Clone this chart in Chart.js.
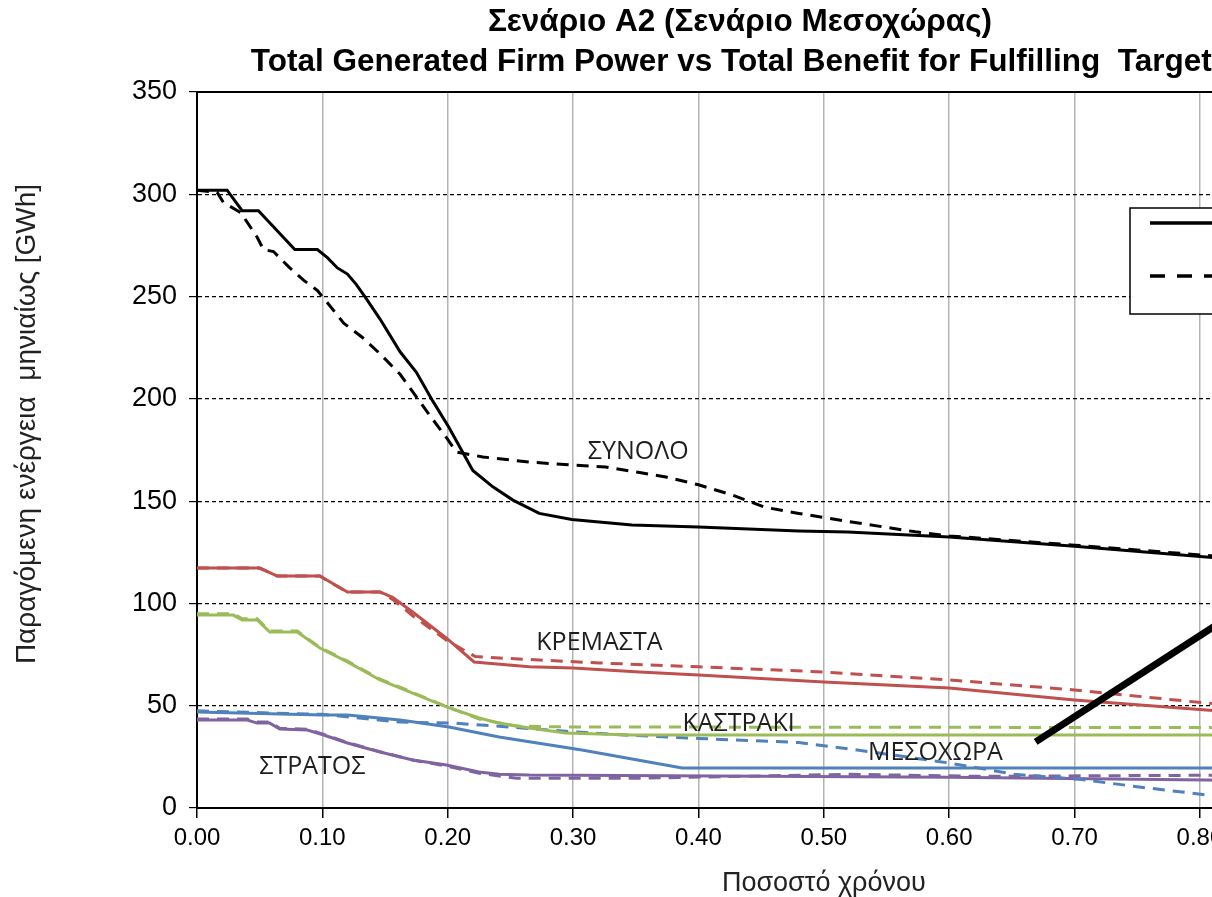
<!DOCTYPE html>
<html>
<head>
<meta charset="utf-8">
<script src="https://cdn.jsdelivr.net/npm/chart.js@4.4.0/dist/chart.umd.min.js"></script>
<style>
  html, body { margin: 0; padding: 0; background: #fff; overflow: hidden; }
  #wrap { width: 1480px; height: 897px; }
</style>
</head>
<body>
<div id="wrap"><canvas id="energyChart" width="1480" height="897"></canvas></div>
<script>
// ΣΥΝΟΛΟ
const totalX = [0, 0.024, 0.036, 0.049, 0.078, 0.096, 0.104, 0.112, 0.120, 0.127, 0.135, 0.146, 0.162, 0.175, 0.188, 0.201, 0.220, 0.236, 0.252, 0.273, 0.299, 0.347, 0.400, 0.480, 0.519, 0.600, 0.700, 0.805, 0.85];
const total = [302, 302, 292, 292, 273, 273, 269, 264, 261, 256, 249, 239, 223, 213, 199, 186, 165, 157, 150.5, 144, 141, 138.3, 137.3, 135.4, 134.9, 132.5, 128, 122.7, 120.5];
const totalBenefitX = [0, 0.016, 0.021, 0.035, 0.048, 0.053, 0.061, 0.074, 0.085, 0.096, 0.104, 0.117, 0.132, 0.146, 0.162, 0.175, 0.188, 0.199, 0.207, 0.228, 0.267, 0.302, 0.326, 0.353, 0.374, 0.400, 0.427, 0.453, 0.480, 0.520, 0.573, 0.600, 0.700, 0.805, 0.85];
const totalBenefit = [302, 301, 296, 291, 279, 273, 272, 264, 258, 253, 247, 237, 230, 222, 212, 201, 190, 181, 174, 171.6, 169, 167.6, 166.7, 164, 161.8, 158, 153, 147, 144, 140, 135, 133, 128.5, 123.5, 121];

// ΚΡΕΜΑΣΤΑ
const kremastaX = [0, 0.050, 0.064, 0.098, 0.120, 0.146, 0.156, 0.172, 0.199, 0.221, 0.265, 0.300, 0.353, 0.400, 0.500, 0.600, 0.700, 0.805, 0.85];
const kremasta = [117.3, 117.3, 113.4, 113.4, 105.6, 105.6, 103, 95.8, 83, 71.4, 69, 68.4, 66.5, 65, 61.6, 58.6, 52.8, 47.9, 46];
const kremastaBenefitX = [0, 0.050, 0.064, 0.098, 0.104, 0.120, 0.146, 0.156, 0.172, 0.199, 0.222, 0.241, 0.321, 0.400, 0.500, 0.600, 0.700, 0.805, 0.85];
const kremastaBenefit = [117.3, 117.3, 113.4, 113.4, 111, 105.6, 105.6, 102, 94, 82, 74, 73.3, 70.9, 69, 66.5, 62.6, 57.7, 51.3, 49];

// ΚΑΣΤΡΑΚΙ
const kastrakiX = [0, 0.029, 0.036, 0.048, 0.058, 0.080, 0.098, 0.120, 0.146, 0.172, 0.199, 0.225, 0.241, 0.265, 0.294, 0.347, 0.85];
const kastraki = [94.3, 94.3, 91.9, 91.9, 86, 86, 78.2, 71.4, 62.6, 56.2, 49.4, 44, 41.5, 39.1, 36.7, 35.7, 35.7];
const kastrakiBenefitX = [0, 0.029, 0.036, 0.048, 0.058, 0.080, 0.098, 0.120, 0.146, 0.172, 0.199, 0.225, 0.255, 0.300, 0.85];
const kastrakiBenefit = [95, 95, 92.5, 92.5, 86.5, 86.5, 78.5, 71.8, 63, 56.5, 49.6, 43.5, 40, 39.6, 39.3];

// ΜΕΣΟΧΩΡΑ
const mesochoraX = [0, 0.100, 0.120, 0.162, 0.201, 0.241, 0.307, 0.387, 0.85];
const mesochora = [46.9, 45.5, 45.5, 43, 39.6, 34.7, 28.3, 19.6, 19.6];
const mesochoraBenefitX = [0, 0.061, 0.100, 0.162, 0.204, 0.241, 0.294, 0.347, 0.400, 0.480, 0.525, 0.600, 0.652, 0.704, 0.758, 0.805, 0.85];
const mesochoraBenefit = [47.5, 46.4, 45.8, 42, 41.5, 40, 37.5, 35.5, 34, 32, 28.5, 22, 16.5, 14, 9.8, 6.4, 4.5];

// ΣΤΡΑΤΟΣ
const stratosX = [0, 0.040, 0.048, 0.058, 0.066, 0.088, 0.101, 0.120, 0.146, 0.172, 0.199, 0.225, 0.241, 0.265, 0.300, 0.600, 0.805, 0.85];
const stratos = [43, 43, 41.5, 41.5, 38.6, 38.1, 35.7, 31.8, 27.4, 23.5, 21, 17.6, 16.5, 16.1, 16, 15, 13.7, 13.5];
const stratosBenefitX = [0, 0.040, 0.048, 0.058, 0.066, 0.088, 0.101, 0.120, 0.146, 0.172, 0.199, 0.225, 0.255, 0.350, 0.520, 0.620, 0.805, 0.85];
const stratosBenefit = [43.5, 43.5, 42, 42, 39, 38.5, 36, 32, 27.5, 23.5, 20.5, 17, 14.5, 14.5, 16.5, 15.5, 16, 16];

// pointer line
const arrowX = [0.669, 0.88];
const arrowY = [32.3, 116];

const xTicks = [0, 0.1, 0.2, 0.3, 0.4, 0.5, 0.6, 0.7, 0.8, 0.9, 1.0];
const yTicks = [0, 50, 100, 150, 200, 250, 300, 350];

// text placed next to each plant's curves
const curveLabels = [
  { text: 'ΣΥΝΟΛΟ', x: 0.352, y: 174 },
  { text: 'ΚΡΕΜΑΣΤΑ', x: 0.321, y: 80.6 },
  { text: 'ΚΑΣΤΡΑΚΙ', x: 0.432, y: 41 },
  { text: 'ΜΕΣΟΧΩΡΑ', x: 0.589, y: 26.9 },
  { text: 'ΣΤΡΑΤΟΣ', x: 0.092, y: 20 }
];

const legendItems = [
  { text: 'Firm Power', dash: [] },
  { text: 'Benefit', dash: [15, 12] }
];

const yTitle = 'Παραγόμενη ενέργεια  μηνιαίως [GWh]';

const pts = (xs, ys) => xs.map((x, i) => ({ x: x, y: ys[i] }));

const series = (data, color, dashed) => ({
  data: data,
  showLine: true,
  borderColor: color,
  borderWidth: 3,
  borderDash: dashed ? [12, 8] : [],
  pointRadius: 0,
  tension: 0,
  fill: false
});

const extras = {
  id: 'extras',
  afterDatasetsDraw(chart) {
    const { ctx, chartArea, scales } = chart;
    ctx.save();

    // solid top border
    ctx.strokeStyle = '#000';
    ctx.lineWidth = 2;
    ctx.beginPath();
    ctx.moveTo(chartArea.left, chartArea.top);
    ctx.lineTo(chartArea.right, chartArea.top);
    ctx.stroke();

    // curve names
    ctx.font = '25px "Open Sans", sans-serif';
    ctx.fillStyle = '#1e1e1e';
    ctx.textAlign = 'center';
    ctx.textBaseline = 'middle';
    curveLabels.forEach(l => {
      ctx.fillText(l.text, scales.x.getPixelForValue(l.x), scales.y.getPixelForValue(l.y));
    });

    // y axis title
    ctx.save();
    ctx.translate(27, 424);
    ctx.rotate(-Math.PI / 2);
    ctx.font = '28px "Liberation Sans", Arial, sans-serif';
    ctx.fillStyle = '#222';
    ctx.fillText(yTitle, 0, 0);
    ctx.restore();

    // legend box
    const bx = chartArea.left + 933;
    const by = chartArea.top + 116;
    ctx.fillStyle = '#fff';
    ctx.fillRect(bx, by, 290, 106);
    ctx.strokeStyle = '#000';
    ctx.lineWidth = 1.5;
    ctx.strokeRect(bx, by, 290, 106);
    ctx.font = '22px "Liberation Sans", Arial, sans-serif';
    ctx.textAlign = 'left';
    legendItems.forEach((item, i) => {
      const ly = by + 15 + i * 53;
      ctx.lineWidth = 3.5;
      ctx.setLineDash(item.dash);
      ctx.beginPath();
      ctx.moveTo(bx + 20, ly);
      ctx.lineTo(bx + 90, ly);
      ctx.stroke();
      ctx.setLineDash([]);
      ctx.fillStyle = '#000';
      ctx.fillText(item.text, bx + 100, ly);
    });
    ctx.restore();
  }
};

new Chart(document.getElementById('energyChart'), {
  type: 'scatter',
  data: {
    datasets: [
      Object.assign(series(pts(arrowX, arrowY), '#000', false), { borderWidth: 7 }),
      series(pts(totalX, total), '#000', false),
      series(pts(totalBenefitX, totalBenefit), '#000', true),
      series(pts(kremastaX, kremasta), '#c0504d', false),
      series(pts(kremastaBenefitX, kremastaBenefit), '#c0504d', true),
      series(pts(kastrakiX, kastraki), '#9bbb59', false),
      series(pts(kastrakiBenefitX, kastrakiBenefit), '#9bbb59', true),
      series(pts(mesochoraX, mesochora), '#4f81bd', false),
      series(pts(mesochoraBenefitX, mesochoraBenefit), '#4f81bd', true),
      series(pts(stratosX, stratos), '#8064a2', false),
      series(pts(stratosBenefitX, stratosBenefit), '#8064a2', true)
    ]
  },
  options: {
    responsive: false,
    devicePixelRatio: 1,
    animation: false,
    layout: { padding: 0 },
    plugins: {
      legend: { display: false },
      tooltip: { enabled: false },
      title: {
        display: true,
        text: ['Σενάριο A2 (Σενάριο Μεσοχώρας)', 'Total Generated Firm Power vs Total Benefit for Fulfilling  Targets'],
        color: '#000',
        font: { family: '"Liberation Sans", Arial, sans-serif', size: 31.5, weight: 'bold', lineHeight: 40 / 31.5 },
        padding: { top: 2, bottom: 10 }
      }
    },
    scales: {
      x: {
        type: 'linear',
        min: 0,
        max: 1,
        afterFit: (s) => { s.height = 89; },
        afterBuildTicks: (s) => { s.ticks = xTicks.map(v => ({ value: v })); },
        ticks: {
          color: '#000',
          padding: 6,
          maxRotation: 0,
          font: { family: '"Liberation Sans", Arial, sans-serif', size: 24 },
          callback: (v) => v.toFixed(2)
        },
        grid: { color: '#b4b4b4', lineWidth: 1.5, tickColor: '#000', tickLength: 10 },
        border: { color: '#000', width: 2 },
        title: {
          display: true,
          text: 'Ποσοστό χρόνου',
          color: '#222',
          font: { family: '"Liberation Sans", Arial, sans-serif', size: 27, lineHeight: 1.2 },
          padding: { top: 0, bottom: -3 }
        }
      },
      y: {
        min: 0,
        max: 350,
        afterFit: (s) => { s.width = 197; },
        afterBuildTicks: (s) => { s.ticks = yTicks.map(v => ({ value: v })); },
        ticks: {
          color: '#000',
          padding: 12,
          font: { family: '"Liberation Sans", Arial, sans-serif', size: 27 }
        },
        grid: { color: '#000', lineWidth: 1.2, tickBorderDash: [], tickColor: '#000', tickLength: 8 },
        border: { color: '#000', width: 2, dash: [4, 3] }
      },
      // empty strip on the right edge of the canvas
      yRight: {
        position: 'right',
        display: true,
        afterFit: (s) => { s.width = 26; },
        grid: { display: false, drawOnChartArea: false },
        border: { display: false },
        ticks: { display: false }
      }
    }
  },
  plugins: [extras]
});
</script>
</body>
</html>
